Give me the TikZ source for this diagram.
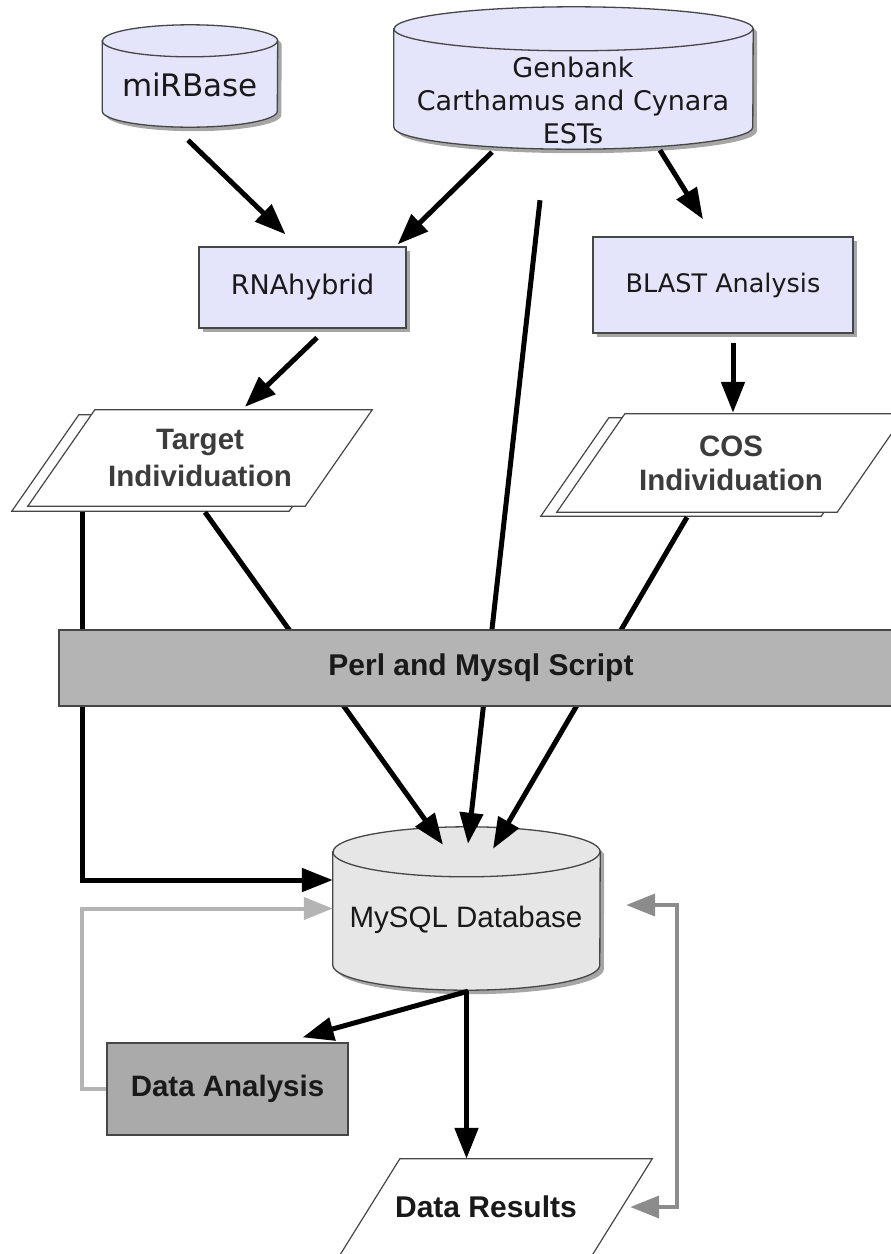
\documentclass[tikz,border=0pt]{standalone}
\usepackage{fontspec}
\setmainfont{Liberation Sans}
\newfontfamily\verd{DejaVu Sans}
\usetikzlibrary{arrows.meta,shadows,backgrounds}

\definecolor{dblav}{RGB}{228,228,250}
\definecolor{sqlgray}{RGB}{230,230,230}
\definecolor{bargray}{RGB}{180,180,180}
\definecolor{anagray}{RGB}{170,170,170}
\definecolor{edge}{RGB}{70,70,70}
\definecolor{ink}{RGB}{25,25,25}
\definecolor{softink}{RGB}{60,60,60}
\definecolor{lightarr}{RGB}{180,180,180}
\definecolor{darkarr}{RGB}{140,140,140}

% outline of a database drum inside the box of node #1
\newcommand\drumpath[3]{([yshift=-#3]#1.north west) -- ([yshift=#3]#1.south west)
  arc[start angle=180, end angle=360, x radius=#2, y radius=#3]
  -- ([yshift=-#3]#1.north east)
  arc[start angle=0, end angle=180, x radius=#2, y radius=#3] -- cycle}
\newcommand\drum[4]{%
  \fill[black!35, transform canvas={xshift=4pt,yshift=-4pt}] \drumpath{#1}{#2}{#3};
  \filldraw[fill=#4, draw=edge, line width=1.3pt] \drumpath{#1}{#2}{#3};
  \draw[edge, line width=1.3pt] ([yshift=-#3]#1.north west)
    arc[start angle=180, end angle=360, x radius=#2, y radius=#3];
}
% parallelogram inside the box of node #1, slant #2
\newcommand\slantbox[2]{(#1.south west) -- ([xshift=#2]#1.north west)
  -- (#1.north east) -- ([xshift=-#2]#1.south east) -- cycle}

\begin{document}
\begin{tikzpicture}[x=1pt, y=1pt,
    box/.style={draw=edge, line width=1.3pt, fill=dblav, inner sep=0pt, text=ink,
      drop shadow={shadow xshift=4pt, shadow yshift=-4pt, fill=black!35, opacity=1}},
    hollow/.style={inner sep=0pt, align=center, text=ink},
    pgon/.style={draw=edge, line width=1.2pt, fill=white},
    arr/.style={line width=5pt, -{Triangle[length=31pt, width=23pt]}},
    lgarr/.style={lightarr, line width=4pt, -{Triangle[length=29pt, width=22pt]}},
    dgarr/.style={darkarr, line width=4pt, {Triangle[length=29pt, width=22pt]}-{Triangle[length=29pt, width=22pt]}}]

    \useasboundingbox (0,0) rectangle (891,-1254);
    \clip (0,0) rectangle (891,-1254);

    % database drums (boxes) and their texts
    \node[hollow, minimum width=175, minimum height=102] (mirdb) at (190,-76) {};
    \node[hollow, minimum width=359, minimum height=142] (gendb) at (573.5,-78) {};
    \node[hollow, minimum width=267, minimum height=163] (sqldb) at (466.5,-908.5) {};

    \node[hollow, font=\verd\fontsize{31}{36}\selectfont] (mir) at (190,-85) {miRBase};
    \node[hollow, font=\verd\fontsize{27}{33}\selectfont] (gen) at (573,-100)
        {Genbank\\Carthamus and Cynara\\ESTs};
    \node[hollow, font=\fontsize{29.5}{34}\selectfont] (sql) at (466,-920) {MySQL Database};

    % process boxes
    \node[box, minimum width=207, minimum height=81, font=\verd\fontsize{27}{32}\selectfont]
        (rna) at (302.5,-287.5) {RNAhybrid};
    \node[box, minimum width=260, minimum height=96, font=\verd\fontsize{25.5}{30}\selectfont]
        (blast) at (723,-285) {BLAST Analysis};

    % individuation sheets
    \node[hollow, text=softink, minimum width=344, minimum height=96,
        font=\bfseries\fontsize{29.5}{37}\selectfont] (tgt) at (200,-458) {Target\\Individuation};
    \node[hollow, text=softink, minimum width=348, minimum height=98,
        font=\bfseries\fontsize{29.5}{34}\selectfont] (cos) at (731,-463) {COS\\Individuation};

    % results
    \node[draw=edge, line width=1.3pt, fill=anagray, inner sep=0pt, minimum width=241,
        minimum height=92, font=\bfseries\fontsize{29.5}{34}\selectfont, text=ink]
        (ana) at (227.5,-1089) {Data Analysis};
    \node[hollow, minimum width=312, minimum height=96,
        font=\bfseries\fontsize{30}{34}\selectfont] (res) at (496,-1207) {Data Results\hspace*{20pt}};

    \begin{scope}[on background layer]
        \drum{mirdb}{87.5}{16}{dblav}
        \drum{gendb}{179.5}{22}{dblav}
        \drum{sqldb}{133.5}{25}{sqlgray}
        \filldraw[pgon, transform canvas={xshift=-16pt,yshift=-5pt}] \slantbox{tgt}{67};
        \filldraw[pgon] \slantbox{tgt}{67};
        \filldraw[pgon, transform canvas={xshift=-16pt,yshift=-4pt}] \slantbox{cos}{68};
        \filldraw[pgon] \slantbox{cos}{68};
        \filldraw[pgon] \slantbox{res}{60};
    \end{scope}

    % connectors
    \draw[arr] ([shift={(-2,-13)}]mirdb.south) -- ([shift={(-17,12)}]rna.north);
    \draw[arr] ([shift={(-81.5,-3)}]gendb.south) -- ([shift={(-9,2)}]rna.north east);
    \draw[arr] ([shift={(86.5,-1)}]gendb.south) -- ([shift={(-20,17)}]blast.north);
    \draw[arr] ([shift={(14.5,-9)}]rna.south) -- ([shift={(45,3)}]tgt.north);
    \draw[arr] ([shift={(10,-9)}]blast.south) -- ([shift={(2,1)}]cos.north);

    \draw[arr] ([shift={(-33.5,-51)}]gendb.south) -- ([shift={(1.5,-17)}]sqldb.north);
    \draw[arr] ([shift={(5,-6)}]tgt.south) -- ([shift={(-23.5,-18)}]sqldb.north);
    \draw[arr] ([shift={(-44,-5)}]cos.south) -- ([shift={(26.5,-22)}]sqldb.north);
    \draw[arr] ([shift={(55,-6)}]tgt.south west) |- ([yshift=28.5]sqldb.west);

    \draw[lgarr] (ana.west) -- ++(-24,0) |- (sqldb.west);
    \draw[dgarr] ([shift={(26,3.5)}]sqldb.east) -- ++(51,0) |- ([xshift=-22]res.east);

    \draw[arr] ([shift={(1.5,-1)}]sqldb.south) -- ([shift={(-46,5)}]ana.north east);
    \draw[arr] ([yshift=-1]sqldb.south) -- (sqldb.south |- res.north);

    % script bar over the lines
    \node[draw=edge, line width=1.3pt, fill=bargray, inner sep=0pt, minimum width=844,
        minimum height=76, font=\bfseries\fontsize{30}{34}\selectfont, text=ink]
        (perl) at (481,-668) {Perl and Mysql Script};
\end{tikzpicture}
\end{document}
